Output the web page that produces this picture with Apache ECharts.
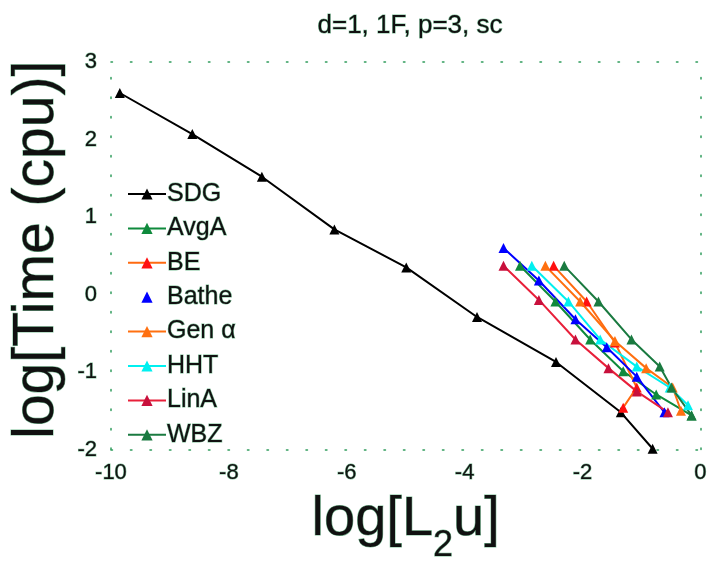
<!DOCTYPE html>
<html>
<head>
<meta charset="utf-8">
<script src="https://cdn.jsdelivr.net/npm/echarts@6/dist/echarts.min.js"></script>
<style>
html, body { margin: 0; padding: 0; background: #fff; }
#chart { width: 710px; height: 570px; }
</style>
</head>
<body>
<div id="chart"></div>
<script>
// values: [log L2u, log time]
var sdg   = [[-9.85, 2.60], [-8.62, 2.07], [-7.44, 1.52], [-6.21, 0.84], [-4.99, 0.35], [-3.79, -0.29], [-2.45, -0.87], [-1.35, -1.52], [-0.81, -1.99]];
var avgA  = [[-3.06, 0.37], [-2.46, -0.09], [-1.87, -0.58], [-1.31, -0.99], [-0.75, -1.29], [-0.15, -1.56]];
var be    = [[-2.49, 0.37], [-1.93, -0.09], [-1.45, -0.62], [-1.08, -1.20], [-1.31, -1.46]];
var bathe = [[-3.34, 0.60], [-2.74, 0.18], [-2.12, -0.32], [-1.59, -0.68], [-1.08, -1.06], [-0.61, -1.52]];
var genA  = [[-2.63, 0.37], [-2.04, -0.09], [-1.45, -0.60], [-0.92, -0.95], [-0.47, -1.20], [-0.33, -1.50]];
var hht   = [[-2.86, 0.37], [-2.24, -0.09], [-1.70, -0.58], [-1.08, -0.93], [-0.52, -1.20], [-0.21, -1.43]];
var linA  = [[-3.34, 0.37], [-2.74, -0.07], [-2.12, -0.58], [-1.56, -0.95], [-1.08, -1.25], [-0.55, -1.52]];
var wbz   = [[-2.31, 0.37], [-1.73, -0.09], [-1.17, -0.58], [-0.69, -0.93], [-0.49, -1.20], [-0.15, -1.56]];

var xTicks = [-10, -8, -6, -4, -2, 0];
var yTicks = [-2, -1, 0, 1, 2, 3];

var font = 'Liberation Sans';
var dotColor = '#2f9c5c';
var fringe = 'rgba(20,140,70,0.55)';

var myChart = echarts.init(document.getElementById('chart'));

function mk(name, data, lineColor, markColor) {
    return {
        name: name,
        type: 'line',
        data: data,
        symbol: 'triangle',
        symbolSize: 10,
        showSymbol: true,
        lineStyle: { color: lineColor, width: 2 },
        itemStyle: { color: markColor }
    };
}

var dotted = { show: true, onZero: false, lineStyle: { color: dotColor, width: 1.5, type: [1.5, 18] } };

var option = {
    animation: false,
    backgroundColor: '#fff',
    textStyle: { fontFamily: font },
    title: {
        text: 'd=1, 1F, p=3, sc',
        left: 405,
        top: 8,
        textAlign: 'center',
        textStyle: { fontFamily: font, fontSize: 26, fontWeight: 'normal', color: '#111',
            textBorderColor: fringe, textBorderWidth: 1 }
    },
    legend: {
        orient: 'vertical',
        left: 122,
        top: 176,
        itemWidth: 38,
        itemHeight: 14,
        itemGap: 8.4,
        data: [
            'SDG', 'AvgA', 'BE',
            { name: 'Bathe', lineStyle: { opacity: 0 } },
            'Gen \u03b1', 'HHT', 'LinA', 'WBZ'
        ],
        textStyle: { fontFamily: font, fontSize: 25, color: '#111', padding: [0, 0, 0, -4],
            textBorderColor: fringe, textBorderWidth: 1 }
    },
    grid: { left: 106, right: 9, top: 62, bottom: 110, containLabel: false },
    xAxis: [{
        type: 'value',
        min: -10, max: 0, interval: 2,
        position: 'bottom',
        axisLine: dotted,
        axisTick: { show: false },
        splitLine: { show: false },
        axisLabel: { fontFamily: font, fontSize: 22, color: '#111', margin: 12,
            textBorderColor: fringe, textBorderWidth: 1 },
        name: '{a|log[L}{s|2}{a|u]}',
        nameLocation: 'middle',
        nameGap: 25,
        nameTextStyle: {
            rich: {
                a: { fontFamily: font, fontSize: 56, color: '#111', textBorderColor: fringe, textBorderWidth: 1 },
                s: { fontFamily: font, fontSize: 36, color: '#111', padding: [54, 0, 0, 0], textBorderColor: fringe, textBorderWidth: 1 }
            }
        }
    }, {
        type: 'value',
        min: -10, max: 0, interval: 2,
        position: 'top',
        axisLine: dotted,
        axisTick: { show: false },
        axisLabel: { show: false },
        splitLine: { show: false }
    }],
    yAxis: [{
        type: 'value',
        min: -2, max: 3, interval: 1,
        position: 'left',
        axisLine: dotted,
        axisTick: { show: false },
        splitLine: { show: false },
        axisLabel: { fontFamily: font, fontSize: 22, color: '#111', margin: 14,
            textBorderColor: fringe, textBorderWidth: 1 },
        name: 'log[Time (cpu)]',
        nameLocation: 'middle',
        nameGap: 30,
        nameRotate: 90,
        nameTextStyle: { fontFamily: font, fontSize: 57, color: '#111', padding: [0, 0, 0, 12],
            textBorderColor: fringe, textBorderWidth: 1 }
    }, {
        type: 'value',
        min: -2, max: 3, interval: 1,
        position: 'right',
        axisLine: dotted,
        axisTick: { show: false },
        axisLabel: { show: false },
        splitLine: { show: false }
    }],
    series: [
        mk('SDG', sdg, '#000000', '#000000'),
        mk('AvgA', avgA, '#0f8a3c', '#0f8a3c'),
        mk('BE', be, '#ff6a10', '#ff1010'),
        mk('Bathe', bathe, '#0000ff', '#0000ff'),
        mk('Gen \u03b1', genA, '#ff7010', '#ff7010'),
        mk('HHT', hht, '#00f0f0', '#00f0f0'),
        mk('LinA', linA, '#e8203a', '#c8103c'),
        mk('WBZ', wbz, '#1a7a40', '#1a7a40')
    ]
};

myChart.setOption(option);
</script>
</body>
</html>
